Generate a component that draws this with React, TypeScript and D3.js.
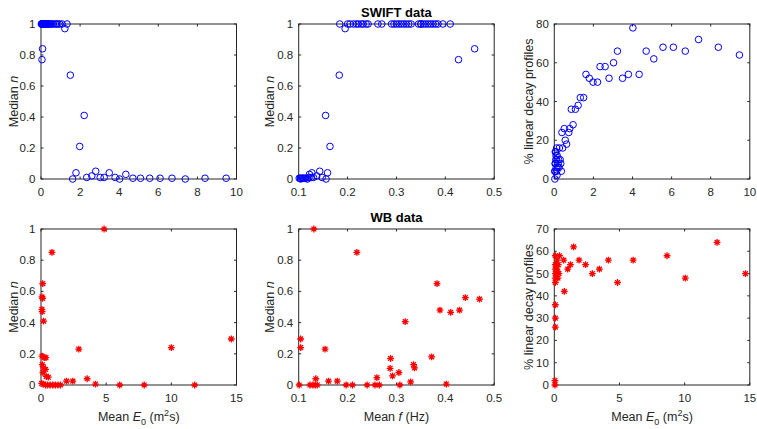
import React from "react";
import * as d3 from "d3";

// ---------- SWIFT data ----------
const swiftE0 = [9.47, 8.39, 7.38, 6.7, 6.09, 5.56, 5.09, 4.7, 4.34, 4.02, 3.79, 3.49, 3.23, 3.03, 2.8, 2.6, 2.34, 2.21, 1.98, 1.79, 1.62, 1.5, 1.33, 1.22, 1.08, 0.87, 0.96, 0.79, 0.74, 0.51, 0.39, 0.56, 0.63, 0.43, 0.26, 0.12, 0.07, 0.05, 0.3, 0.22, 0.15, 0.08, 0.04, 0.2, 0.33, 0.1, 0.18, 0.36, 0.02, 0.12, 0.25, 0.14, 0.06, 0.09, 0.11, 0.03, 0.08, 0.05];
const swiftF = [0.101, 0.103, 0.104, 0.106, 0.108, 0.11, 0.112, 0.115, 0.122, 0.118, 0.126, 0.127, 0.121, 0.13, 0.143, 0.137, 0.148, 0.155, 0.164, 0.159, 0.156, 0.183, 0.184, 0.195, 0.2, 0.205, 0.212, 0.218, 0.222, 0.228, 0.232, 0.238, 0.242, 0.262, 0.27, 0.29, 0.295, 0.3, 0.305, 0.31, 0.315, 0.32, 0.325, 0.33, 0.345, 0.35, 0.355, 0.36, 0.365, 0.37, 0.375, 0.38, 0.385, 0.395, 0.41, 0.35, 0.46, 0.427];
const swiftN = [0.005, 0.005, 0, 0.005, 0.005, 0.005, 0.005, 0.005, 0.03, 0, 0.01, 0.04, 0.01, 0.01, 0.05, 0.02, 0.01, 0.41, 0.21, 0.04, 0, 0.67, 1, 0.97, 1, 1, 1, 1, 1, 1, 1, 1, 1, 1, 1, 1, 1, 1, 1, 1, 1, 1, 1, 1, 1, 1, 1, 1, 1, 1, 1, 1, 1, 1, 1, 1, 0.84, 0.77];
const swiftPct = [64, 68, 72, 66, 68, 68, 62, 66, 54, 78, 54, 52, 66, 60, 52, 58, 58, 50, 50, 52, 54, 42, 42, 38, 36, 36, 28, 26, 24, 26, 24, 20, 18, 16, 16, 16, 14, 14, 10, 10, 12, 10, 8, 8, 8, 6, 6, 4, 4, 4, 6, 2, 8, 12, 10, 0, 14, 4];

// ---------- WB data ----------
const wbE0 = [4.84, 0.84, 0.13, 0.08, 0.12, 0.07, 0.09, 0.2, 2.9, 10.0, 14.6, 0.08, 0.25, 0.38, 0.1, 0.2, 0.35, 0.15, 0.56, 0.4, 3.54, 1.96, 2.44, 4.18, 6.04, 7.92, 11.79, 0.05, 0.15, 0.35, 0.5, 0.7, 0.9, 1.1, 1.3, 1.5];
const wbN = [1.0, 0.85, 0.65, 0.565, 0.555, 0.485, 0.47, 0.41, 0.23, 0.24, 0.295, 0.185, 0.175, 0.175, 0.13, 0.11, 0.1, 0.08, 0.05, 0.055, 0.04, 0.025, 0.025, 0.006, 0, 0, 0, 0.01, 0.005, 0, 0, 0, 0, 0, 0, 0];

const wbF = [0.131, 0.219, 0.383, 0.441, 0.47, 0.389, 0.429, 0.411, 0.318, 0.104, 0.104, 0.154, 0.372, 0.288, 0.287, 0.292, 0.305, 0.335, 0.337, 0.135, 0.161, 0.179, 0.26, 0.329, 0.402, 0.101, 0.123, 0.129, 0.134, 0.138, 0.197, 0.21, 0.24, 0.256, 0.265, 0.307];
const wbFN = [1.0, 0.85, 0.65, 0.56, 0.55, 0.48, 0.48, 0.466, 0.406, 0.295, 0.24, 0.23, 0.18, 0.17, 0.107, 0.058, 0.08, 0.13, 0.11, 0.04, 0.025, 0.025, 0.047, 0.02, 0.006, 0, 0, 0, 0, 0, 0, 0, 0, 0, 0, 0];

const wbPctE0 = [14.67, 12.49, 10.05, 8.65, 6.05, 4.85, 4.15, 3.46, 2.92, 2.4, 1.9, 1.48, 1.24, 1.03, 0.77, 0.72, 0.4, 0.08, 0.08, 0.08, 0.08, 0.08, 0.08, 0.2, 0.25, 0.3, 0.35, 0.28, 0.22, 0.08, 0.08, 0.08, 0.05, 0.05];
const wbPct = [50, 64, 48, 58, 56, 46, 56, 52, 50, 54, 56, 62, 54, 52, 42, 56, 58, 58, 54, 52, 50, 48, 46, 53, 51, 54, 50, 48, 56, 36, 30, 26, 2, 0];

// ---------- tick labels ----------
const ticksN = [0, 0.2, 0.4, 0.6, 0.8, 1];
const ticksE10 = [0, 2, 4, 6, 8, 10];
const ticksF = [0.1, 0.2, 0.3, 0.4, 0.5];
const ticksPct80 = [0, 20, 40, 60, 80];
const ticksE15 = [0, 5, 10, 15];
const ticksPct70 = [0, 10, 20, 30, 40, 50, 60, 70];

const FONT = "'Liberation Sans', Arial, Helvetica, sans-serif";
const AX = "#262626";

type PanelProps = {
  left: number; top: number; width: number; height: number;
  xDom: [number, number]; yDom: [number, number];
  xTicks: number[]; yTicks: number[];
  xs: number[]; ys: number[];
  marker: "o" | "*";
  yLabel: React.ReactNode; yLabelOff: number; xLabel?: React.ReactNode; title?: string;
};

const fmt = (v: number) => String(+v.toFixed(2));

function Panel(p: PanelProps) {
  const x = d3.scaleLinear().domain(p.xDom).range([p.left, p.left + p.width]);
  const y = d3.scaleLinear().domain(p.yDom).range([p.top + p.height, p.top]);
  const bottom = p.top + p.height;
  const right = p.left + p.width;
  const tl = 2.5;
  const cx = p.left + p.width / 2;
  const s = 3.4, dd = 2.4;
  const star = `M${-s},0H${s}M0,${-s}V${s}M${-dd},${-dd}L${dd},${dd}M${-dd},${dd}L${dd},${-dd}`;
  return (
    <g>
      {p.xTicks.map((t) => (
        <g key={"x" + t}>
          <line x1={x(t)} x2={x(t)} y1={bottom} y2={bottom - tl} stroke={AX} />
          <line x1={x(t)} x2={x(t)} y1={p.top} y2={p.top + tl} stroke={AX} />
          <text x={x(t)} y={bottom + 17} textAnchor="middle" fontSize={11.5} fill={AX}>{fmt(t)}</text>
        </g>
      ))}
      {p.yTicks.map((t) => (
        <g key={"y" + t}>
          <line x1={p.left} x2={p.left + tl} y1={y(t)} y2={y(t)} stroke={AX} />
          <line x1={right} x2={right - tl} y1={y(t)} y2={y(t)} stroke={AX} />
          <text x={p.left - 5.5} y={y(t) + 4} textAnchor="end" fontSize={11.5} fill={AX}>{fmt(t)}</text>
        </g>
      ))}
      <rect x={p.left} y={p.top} width={p.width} height={p.height} fill="none" stroke={AX} strokeWidth={1} />
      {p.xs.map((v, i) =>
        p.marker === "o" ? (
          <circle key={i} cx={x(v)} cy={y(p.ys[i])} r={3.3} fill="none" stroke="#0000ff" strokeWidth={1} />
        ) : (
          <path key={i} d={star} transform={`translate(${x(v)},${y(p.ys[i])})`} fill="none" stroke="#ff0000" strokeWidth={1.3} />
        )
      )}
      <text transform={`translate(${p.left - p.yLabelOff},${p.top + p.height / 2}) rotate(-90)`} textAnchor="middle" fontSize={12.5} fill={AX}>{p.yLabel}</text>
      {p.xLabel && (
        <text x={cx} y={bottom + 36} textAnchor="middle" fontSize={12.5} fill={AX}>{p.xLabel}</text>
      )}
      {p.title && (
        <text x={cx} y={p.top - 7} textAnchor="middle" fontSize={13} fontWeight="bold" fill="#000">{p.title}</text>
      )}
    </g>
  );
}

const medianN = (<><tspan>Median </tspan><tspan fontStyle="italic">n</tspan></>);
const pctLabel = "% linear decay profiles";
const meanE0 = (
  <>
    <tspan>Mean </tspan>
    <tspan fontStyle="italic">E</tspan>
    <tspan fontSize={9} dy={4}>0</tspan>
    <tspan dy={-4}> (m</tspan>
    <tspan fontSize={9} dy={-5}>2</tspan>
    <tspan dy={5}>s)</tspan>
  </>
);
const meanF = (<><tspan>Mean </tspan><tspan fontStyle="italic">f</tspan><tspan> (Hz)</tspan></>);

export default function App() {
  const cols = [41, 298.7, 554.3];
  const w = 195.5;
  const topRow = { top: 24, height: 155 };
  const botRow = { top: 229, height: 156 };
  return (
    <svg width={757} height={429} style={{ position: "absolute", left: 0, top: 0, background: "#fff" }} fontFamily={FONT}>
      <rect width={757} height={429} fill="#fff" />
      <Panel left={cols[0]} top={topRow.top} width={w} height={topRow.height} xDom={[0, 10]} yDom={[0, 1]} xTicks={ticksE10} yTicks={ticksN} xs={swiftE0} ys={swiftN} marker="o" yLabel={medianN} yLabelOff={23} />
      <Panel left={cols[1]} top={topRow.top} width={w} height={topRow.height} xDom={[0.1, 0.5]} yDom={[0, 1]} xTicks={ticksF} yTicks={ticksN} xs={swiftF} ys={swiftN} marker="o" yLabel={medianN} yLabelOff={25} title="SWIFT data" />
      <Panel left={cols[2]} top={topRow.top} width={w} height={topRow.height} xDom={[0, 10]} yDom={[0, 80]} xTicks={ticksE10} yTicks={ticksPct80} xs={swiftE0} ys={swiftPct} marker="o" yLabel={pctLabel} yLabelOff={21} />
      <Panel left={cols[0]} top={botRow.top} width={w} height={botRow.height} xDom={[0, 15]} yDom={[0, 1]} xTicks={ticksE15} yTicks={ticksN} xs={wbE0} ys={wbN} marker="*" yLabel={medianN} yLabelOff={23} xLabel={meanE0} />
      <Panel left={cols[1]} top={botRow.top} width={w} height={botRow.height} xDom={[0.1, 0.5]} yDom={[0, 1]} xTicks={ticksF} yTicks={ticksN} xs={wbF} ys={wbFN} marker="*" yLabel={medianN} yLabelOff={25} xLabel={meanF} title="WB data" />
      <Panel left={cols[2]} top={botRow.top} width={w} height={botRow.height} xDom={[0, 15]} yDom={[0, 70]} xTicks={ticksE15} yTicks={ticksPct70} xs={wbPctE0} ys={wbPct} marker="*" yLabel={pctLabel} yLabelOff={21} xLabel={meanE0} />
    </svg>
  );
}
